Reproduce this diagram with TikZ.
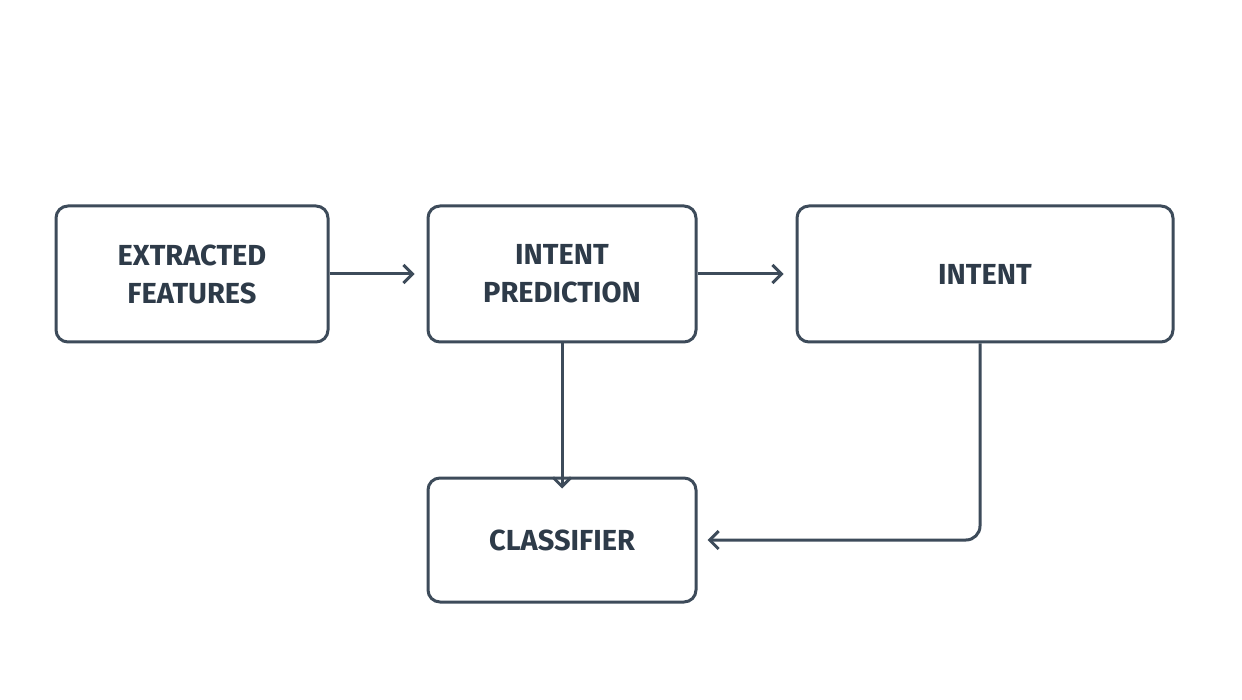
\documentclass[tikz,border=0pt]{standalone}
\usepackage{fontspec}
\setmainfont{Fira Sans}
\usetikzlibrary{arrows.meta}
\definecolor{ln}{HTML}{3D4B5A}
\definecolor{tx}{HTML}{2E3B49}
\begin{document}
\begin{tikzpicture}[x=1pt,y=-1pt,
  box/.style={draw=ln,line width=3pt,rounded corners=12pt,minimum height=136pt,align=center,
    font=\fontsize{29}{38}\selectfont\bfseries,text=tx,inner sep=0pt},
  arr/.style={draw=ln,line width=3pt,-{Straight Barb[length=9pt,width=18pt,line width=3pt]}}]
\useasboundingbox[fill=white] (0,0) rectangle (1242,700);
\node[box,minimum width=272pt] (ef) at (192,274) {EXTRACTED\\FEATURES};
\node[box,minimum width=268pt] (ip) at (562,274) {INTENT\\PREDICTION};
\node[box,minimum width=376pt] (in) at (985,274) {INTENT};
\node[box,minimum width=268pt,minimum height=124pt] (cl) at (562,540) {CLASSIFIER};
\coordinate (c1) at (980,540);
\draw[arr] (ef.east) -- ([xshift=-12pt]ip.west);
\draw[arr] (ip.east) -- ([xshift=-12pt]in.west);
\draw[arr] (ip.south) -- ([yshift=-12pt]cl.north);
\draw[arr,rounded corners=14pt] (in.south -| c1) -- (c1) -- ([xshift=10pt]cl.east);
\end{tikzpicture}
\end{document}
